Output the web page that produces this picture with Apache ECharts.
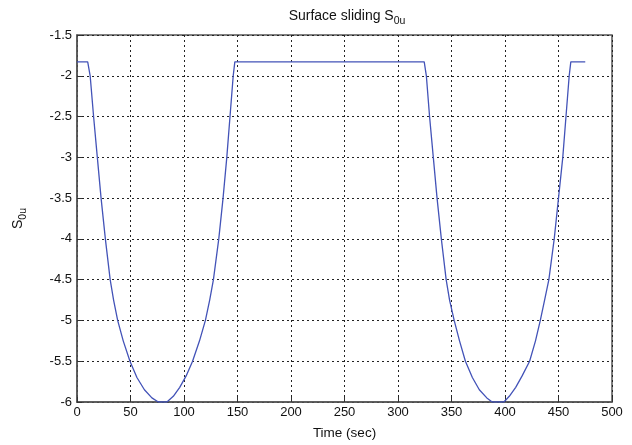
<!DOCTYPE html>
<html><head><meta charset="utf-8">
<script src="https://cdn.jsdelivr.net/npm/echarts@6/dist/echarts.min.js"></script>
<style>html,body{margin:0;padding:0;background:#fff}#c{width:632px;height:445px}</style>
</head><body><div id="c"></div>
<script>
const timeValues = [0,10,12.3,15.5,19,22.5,26.5,31,34.2,38,43.2,49.5,56,63,70,76,84,90,96,102,108,114.5,120,124,127.5,132.5,136.5,140,143,146,147.5,
  324.5,326.5,329.5,333,336.5,340.5,345,348.2,352.5,357.5,363,369.5,376,383,388,399,404,410,416,423,428.5,433,437,441,446,450,454,457,460,461.5,475];
const s0uValues = [-1.83,-1.83,-2,-2.5,-3,-3.5,-4,-4.5,-4.75,-5,-5.25,-5.5,-5.7,-5.85,-5.95,-6,-6,-5.93,-5.82,-5.68,-5.5,-5.25,-5,-4.75,-4.5,-4,-3.5,-3,-2.5,-2,-1.83,
  -1.83,-2,-2.5,-3,-3.5,-4,-4.5,-4.75,-5,-5.25,-5.5,-5.7,-5.85,-5.95,-6,-6,-5.93,-5.82,-5.68,-5.5,-5.25,-5,-4.75,-4.5,-4,-3.5,-3,-2.5,-2,-1.83,-1.83];
const xTicks = [0,50,100,150,200,250,300,350,400,450,500];
const yTicks = [-6,-5.5,-5,-4.5,-4,-3.5,-3,-2.5,-2,-1.5];

const points = timeValues.map((t,i)=>[t,s0uValues[i]]);
const font = 'Liberation Sans, Arial, sans-serif';
const chart = echarts.init(document.getElementById('c'));
chart.setOption({
  backgroundColor:'#fff',
  animation:false,
  title:{
    text:'{a|Surface sliding S}{b|0u}',
    left:342, top:-2, textAlign:'center',
    textStyle:{fontWeight:'normal',rich:{
      a:{fontFamily:font,fontSize:14,fontWeight:'normal',color:'#111',lineHeight:20,verticalAlign:'bottom'},
      b:{fontFamily:font,fontSize:10.5,fontWeight:'normal',color:'#111',lineHeight:14,verticalAlign:'bottom',padding:[0,0,-4,0]}
    }}
  },
  grid:{left:77,right:20,top:35,bottom:42,show:true,borderColor:'#555',borderWidth:1.5,backgroundColor:'#fff'},
  xAxis:{
    type:'value',min:0,max:500,interval:50,
    name:'Time (sec)',nameLocation:'middle',nameGap:24,
    nameTextStyle:{fontFamily:font,fontSize:13.5,color:'#111'},
    axisLine:{show:true,lineStyle:{color:'#555',width:1.5}},
    axisTick:{show:true,inside:true,length:5,lineStyle:{color:'#333'}},
    axisLabel:{fontFamily:font,fontSize:13,color:'#111',margin:4,
      formatter:v=>xTicks.includes(v)?String(v):''},
    splitLine:{show:true,lineStyle:{color:'#222',type:[2,3],width:1}}
  },
  yAxis:{
    type:'value',min:-6,max:-1.5,interval:0.5,
    name:'{a|S}{b|0u}',nameLocation:'middle',nameGap:52,nameRotate:90,
    nameTextStyle:{rich:{
      a:{fontFamily:font,fontSize:14,color:'#111',lineHeight:20,verticalAlign:'bottom'},
      b:{fontFamily:font,fontSize:10.5,color:'#111',lineHeight:14,verticalAlign:'bottom',padding:[0,0,-4,0]}
    }},
    axisLine:{show:true,lineStyle:{color:'#555',width:1.5}},
    axisTick:{show:true,inside:true,length:5,lineStyle:{color:'#333'}},
    axisLabel:{fontFamily:font,fontSize:13,color:'#111',margin:5,
      formatter:v=>yTicks.some(t=>Math.abs(t-v)<1e-9)?String(v):''},
    splitLine:{show:true,lineStyle:{color:'#222',type:[2,3],width:1}}
  },
  series:[{
    type:'line',data:points,showSymbol:false,symbol:'none',
    lineStyle:{color:'#4353b8',width:1.3},
    clip:true
  }]
});
</script></body></html>
